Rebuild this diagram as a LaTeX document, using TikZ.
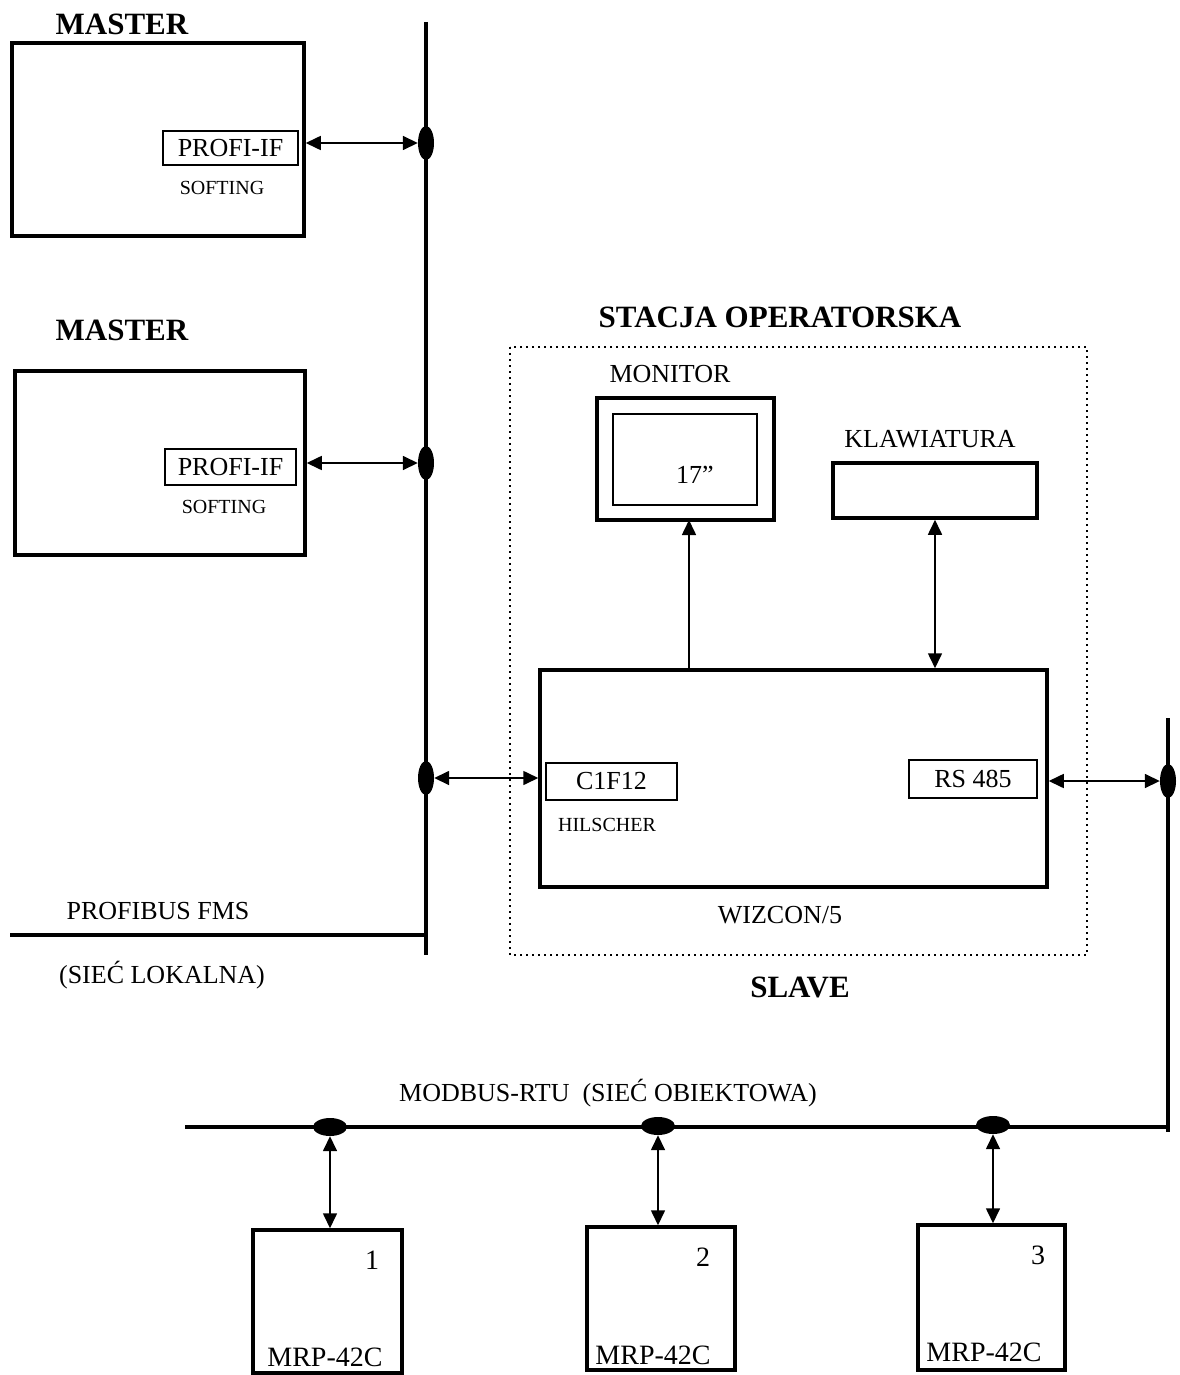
\documentclass[tikz,border=0pt]{standalone}
\usepackage{fontspec}
\setmainfont{Liberation Serif}
\usepackage{tikz}
\usetikzlibrary{arrows.meta,shapes.geometric}
\tikzset{
  link/.style={{Triangle[length=15pt,width=14pt]}-{Triangle[length=15pt,width=14pt]}, line width=1.6pt},
  uplink/.style={-{Triangle[length=15pt,width=14pt]}, line width=1.6pt},
  bus/.style={line width=4pt},
  unitbox/.style={draw, line width=3.5pt, inner sep=0pt},
  ifbox/.style={draw, line width=2pt, inner sep=0pt, font=\fontsize{26}{30}\selectfont},
  vtap/.style={ellipse, fill=black, inner sep=0pt, minimum width=16pt, minimum height=34pt},
  htap/.style={ellipse, fill=black, inner sep=0pt, minimum width=34pt, minimum height=18pt},
  txt/.style={font=\fontsize{26}{30}\selectfont, inner sep=0pt},
  devtxt/.style={font=\fontsize{28}{32}\selectfont, inner sep=0pt},
  small/.style={font=\fontsize{20}{24}\selectfont, inner sep=0pt},
  head/.style={font=\fontsize{31}{36}\selectfont\bfseries, inner sep=0pt}
}
\begin{document}
\begin{tikzpicture}[x=1pt,y=-1pt]
  \useasboundingbox (0,0) rectangle (1179,1375);

  % master stations
  \node[unitbox, minimum width=292pt, minimum height=193pt] (m1) at (158,139.5) {};
  \node[unitbox, minimum width=290pt, minimum height=184pt] (m2) at (160,463) {};
  \node[ifbox, minimum width=135pt, minimum height=34pt] (prof1) at (230.5,148) {PROFI-IF};
  \node[ifbox, minimum width=131pt, minimum height=36pt] (prof2) at (230.5,467) {PROFI-IF};
  \node[head] (mlabel1) at (122,24) {MASTER};
  \node[head] (mlabel2) at (122,330) {MASTER};
  \node[small] (soft1) at (222,188) {SOFTING};
  \node[small] (soft2) at (224,507) {SOFTING};

  % profibus
  \draw[bus] (426,22) -- (426,955);
  \draw[bus] (10,935) -- (426,935);
  \node[vtap] (tap1) at (426,143) {};
  \node[vtap] (tap2) at (426,463) {};
  \node[vtap] (tap3) at (426,778) {};
  \node[txt] (fms) at (158,911) {PROFIBUS FMS};
  \node[txt] (lan) at (162,975) {(SIEĆ LOKALNA)};

  % operator station
  \draw[line width=2pt, dash pattern=on 2pt off 4pt] (510,347) rectangle (1087,955);
  \node[head] (station) at (780,317) {STACJA OPERATORSKA};
  \node[unitbox, minimum width=177pt, minimum height=122pt] (mon) at (685.5,459) {};
  \node[draw, line width=2pt, minimum width=144pt, minimum height=91pt] (screen) at (685,459.5) {};
  \node[txt] (inch) at (695,475) {17''};
  \node[txt] (monlabel) at (670,374) {MONITOR};
  \node[unitbox, minimum width=204pt, minimum height=55pt] (kbd) at (935,490.5) {};
  \node[txt] (kbdlabel) at (930,439) {KLAWIATURA};
  \node[unitbox, minimum width=507pt, minimum height=217pt] (wiz) at (793.5,778.5) {};
  \node[ifbox, minimum width=131pt, minimum height=37pt] (cif) at (611.5,781.5) {C1F12};
  \node[ifbox, minimum width=128pt, minimum height=38pt] (rs) at (973,779) {RS 485};
  \node[small] (hil) at (607,825) {HILSCHER};
  \node[txt] (wizlabel) at (780,915) {WIZCON/5};
  \node[head] (slave) at (800,987) {SLAVE};

  % modbus
  \draw[bus] (1168,718) -- (1168,1132);
  \draw[bus] (185,1127) -- (1168,1127);
  \node[vtap] (tap4) at (1168,781) {};
  \node[htap] (tapa) at (330,1127) {};
  \node[htap] (tapb) at (658,1126) {};
  \node[htap] (tapc) at (993,1125) {};
  \node[txt] (modbus) at (608,1093) {MODBUS-RTU\ \ (SIEĆ OBIEKTOWA)};

  \node[unitbox, minimum width=149pt, minimum height=143pt] (mrp1) at (327.5,1301.5) {};
  \node[unitbox, minimum width=148pt, minimum height=143pt] (mrp2) at (661,1298.5) {};
  \node[unitbox, minimum width=147pt, minimum height=145pt] (mrp3) at (991.5,1297.5) {};
  \node[devtxt] (n1) at (372,1260) {1};
  \node[devtxt] (n2) at (703,1257) {2};
  \node[devtxt] (n3) at (1038,1255) {3};
  \node[devtxt] (name1) at (325,1357) {MRP-42C};
  \node[devtxt] (name2) at (653,1355) {MRP-42C};
  \node[devtxt] (name3) at (984,1352) {MRP-42C};

  % links
  \draw[link] (m1.east |- tap1) -- (tap1.west);
  \draw[link] (m2.east |- tap2) -- (tap2.west);
  \draw[link] (tap3.east) -- (wiz.west |- tap3);
  \draw[link] (wiz.east |- tap4) -- (tap4.west);
  \draw[uplink] (689,670) -- (689,520);
  \draw[link] (wiz.north -| kbd.south) -- (kbd.south);
  \draw[link] (tapa.south) -- (tapa |- mrp1.north);
  \draw[link] (tapb.south) -- (tapb |- mrp2.north);
  \draw[link] (tapc.south) -- (tapc |- mrp3.north);
\end{tikzpicture}
\end{document}
